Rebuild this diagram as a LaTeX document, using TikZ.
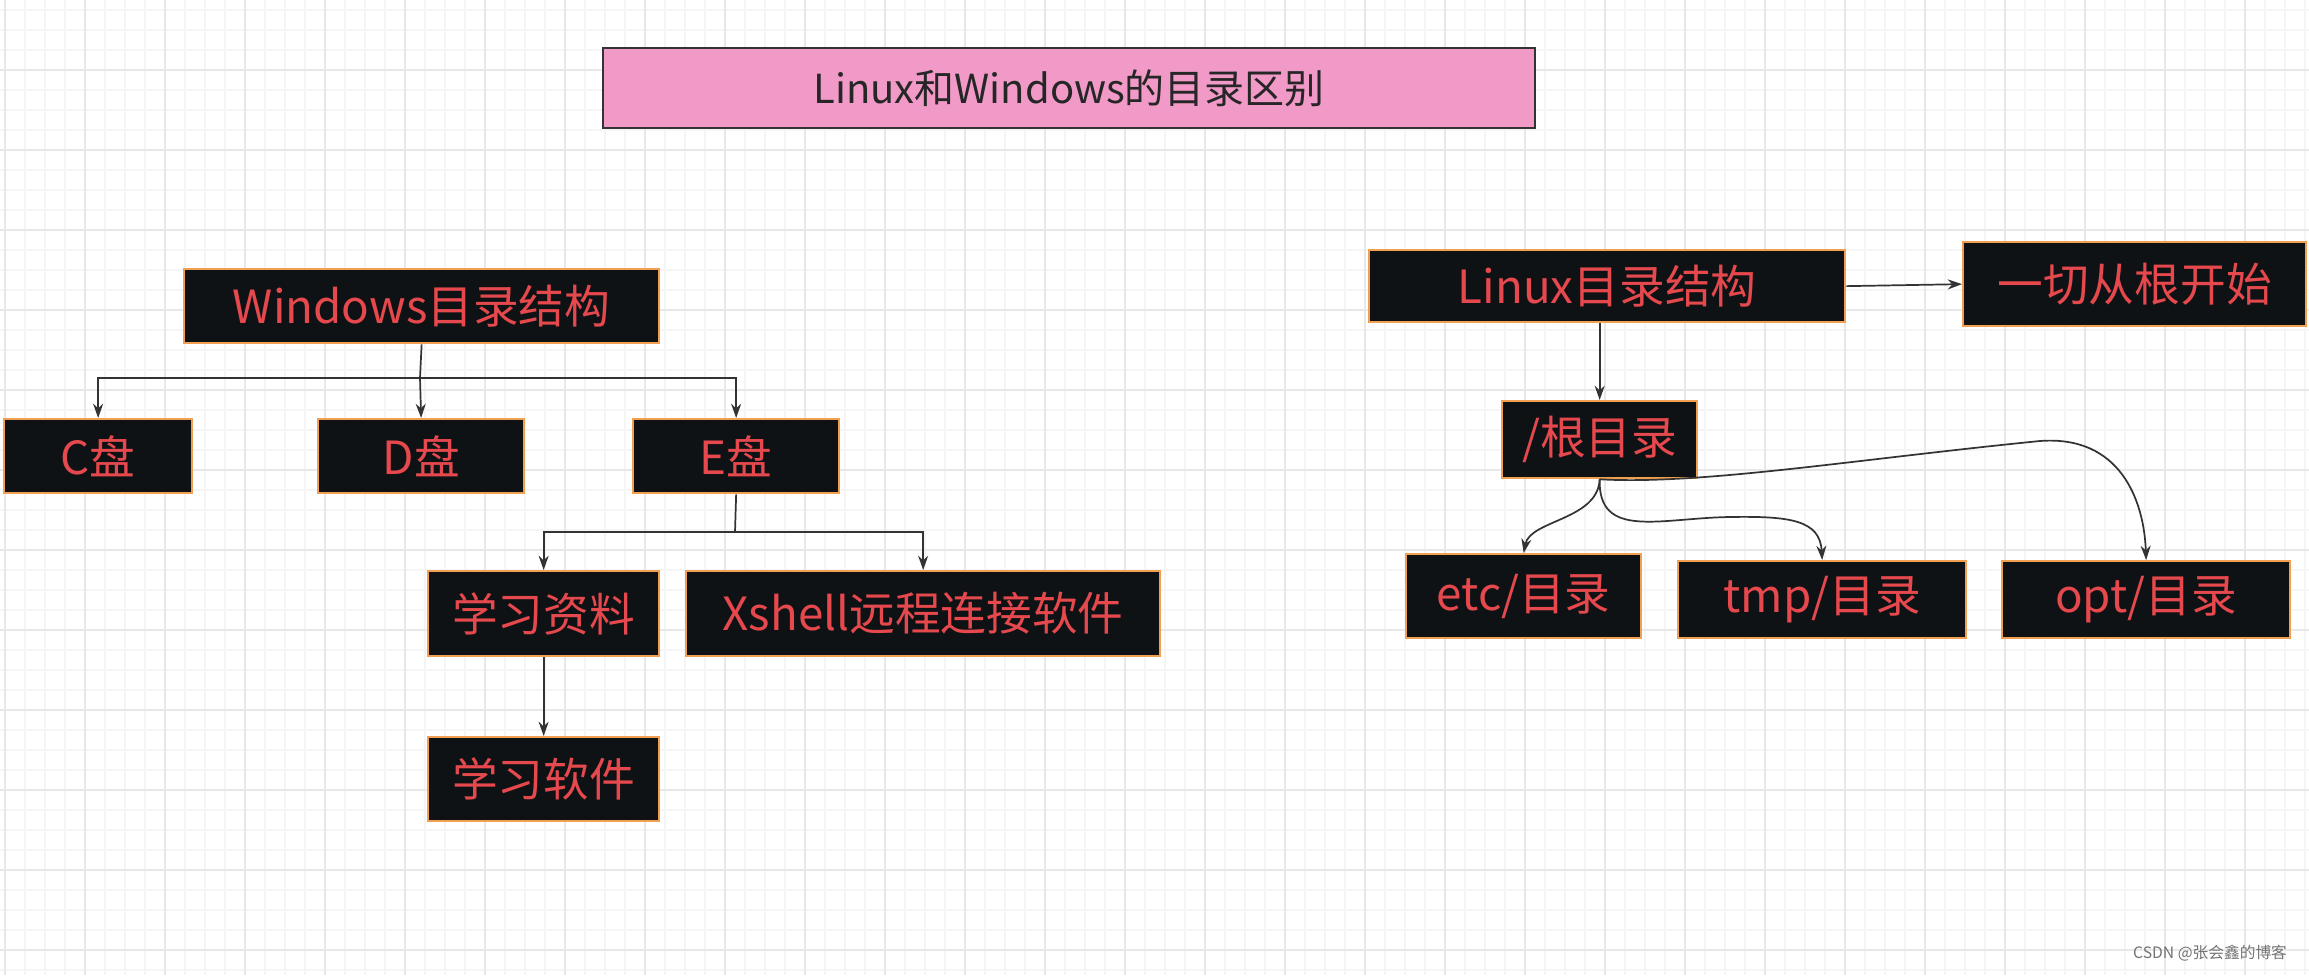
\documentclass[tikz,border=0pt]{standalone}
\usepackage{fontspec}
\setmainfont{Noto Sans CJK SC}
\usetikzlibrary{arrows.meta}
\definecolor{boxbg}{HTML}{0F1215}
\definecolor{boxtx}{HTML}{E5484D}
\definecolor{boxbd}{HTML}{F0A050}
\definecolor{pinkbg}{HTML}{F19AC8}
\begin{document}
\begin{tikzpicture}[x=0.35pt,y=-0.35pt,
  box/.style={draw=boxbd,line width=0.8pt,fill=boxbg,text=boxtx,font=\fontsize{16}{18}\selectfont,inner sep=0pt,anchor=north west},
  conn/.style={draw=black!80,line width=0.6pt,-{Stealth[length=5pt,width=3.5pt]}},
  ln/.style={draw=black!80,line width=0.6pt}]
\useasboundingbox (0,0) rectangle (2309,975);
\fill[white] (0,0) rectangle (2309,975);
\foreach \x in {5,25,...,2309} \draw[black!4,line width=0.4pt] (\x,0) -- (\x,975);
\foreach \y in {10,30,...,975} \draw[black!4,line width=0.4pt] (0,\y) -- (2309,\y);
\foreach \x in {5,85,...,2309} \draw[black!9,line width=0.6pt] (\x,0) -- (\x,975);
\foreach \y in {70,150,...,975} \draw[black!9,line width=0.6pt] (0,\y) -- (2309,\y);
\node[draw=black!80,line width=0.8pt,fill=pinkbg,text=black!85,font=\fontsize{14}{16}\selectfont,minimum width=932*0.35pt,minimum height=80*0.35pt,inner sep=0pt,anchor=north west] (title) at (602,47) {Linux和Windows的目录区别};
\newcommand{\bx}[6]{\node[box,minimum width=#4*0.35pt,minimum height=#5*0.35pt] (#1) at (#2,#3) {#6};}
\bx{win}{183}{268}{475}{74}{Windows目录结构}
\bx{c}{3}{418}{188}{74}{C盘}
\bx{d}{317}{418}{206}{74}{D盘}
\bx{e}{632}{418}{206}{74}{E盘}
\bx{xx}{427}{570}{231}{85}{学习资料}
\bx{xs}{685}{570}{474}{85}{Xshell远程连接软件}
\bx{rj}{427}{736}{231}{84}{学习软件}
\bx{lin}{1368}{249}{476}{72}{Linux目录结构}
\bx{yq}{1962}{241}{343}{84}{一切从根开始}
\bx{gen}{1501}{400}{195}{77}{/根目录}
\bx{etc}{1405}{553}{235}{84}{etc/目录}
\bx{tmp}{1677}{560}{288}{77}{tmp/目录}
\bx{opt}{2001}{560}{288}{77}{opt/目录}
% Windows tree
\coordinate (wj) at (420,378);
\draw[ln] (win.south) -- (wj);
\draw[conn] (wj) -| (c.north);
\draw[conn] (wj) -- (d.north);
\draw[conn] (wj) -| (e.north);
\coordinate (ej) at (735,532);
\draw[ln] (e.south) -- (ej);
\draw[conn] (ej) -| (xx.north);
\draw[conn] (ej) -| (xs.north);
\draw[conn] (xx.south) -- (rj.north);
% Linux tree
\draw[conn] (lin.east) -- (yq.west);
\draw[conn] (lin.south -| gen.north) -- (gen.north);
\draw[conn] (gen.south) .. controls (1598,520) and (1530,520) .. (etc.north);
\draw[conn] (gen.south) .. controls (1598,540) and (1660,518) .. (1730,517) .. controls (1790,516) and (1820,520) .. (tmp.north);
\draw[conn] (gen.south) .. controls (1700,485) and (1850,460) .. (2040,441) .. controls (2120,435) and (2144,500) .. (opt.north);
\node[text=black!55,font=\fontsize{5.5}{6}\selectfont,anchor=east] (wm) at (2297,953) {CSDN @张会鑫的博客};
\end{tikzpicture}
\end{document}
